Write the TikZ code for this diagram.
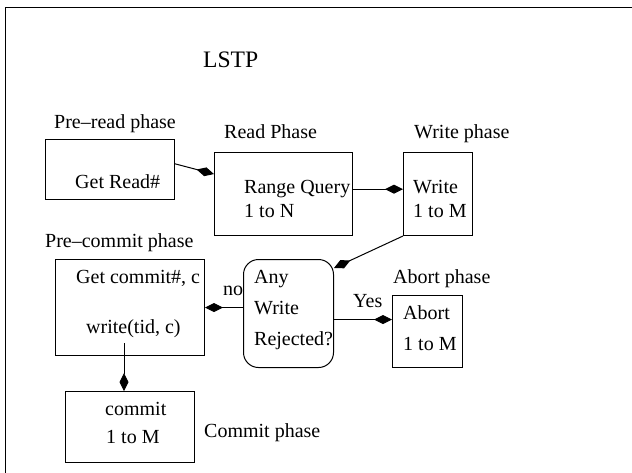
\documentclass[tikz,border=0pt]{standalone}
\usepackage{fontspec}
\setmainfont{Liberation Serif}
\usetikzlibrary{arrows.meta, calc}

\begin{document}
\begin{tikzpicture}[
    x=1pt, y=-1pt,
    box/.style={draw, line width=1pt, inner sep=0pt, anchor=north west},
    lbl/.style={anchor=base west, inner sep=0pt, font=\fontsize{20}{24}\selectfont},
    arr/.style={-{Kite[length=18pt, width=9pt, inset=9pt]}, line width=1pt}
]
\clip (0,0) rectangle (632,472);
\useasboundingbox (0,0) rectangle (632,472);
\draw[line width=1pt] (5,7) rectangle (660,500);

% title
\node[lbl, font=\fontsize{23.6}{28}\selectfont] (title) at (203,67) {LSTP};

% phase boxes
\node[box, minimum width=129pt, minimum height=60pt] (preread) at (45,139) {};
\node[box, minimum width=138pt, minimum height=83pt] (read) at (214,152) {};
\node[box, minimum width=69pt, minimum height=83pt] (write) at (403,152) {};
\node[box, minimum width=149pt, minimum height=96pt] (precommit) at (55,259) {};
\node[box, rounded corners=15pt, minimum width=90pt, minimum height=108pt] (dec) at (243,259) {};
\node[box, minimum width=70pt, minimum height=72pt] (abort) at (392,295) {};
\node[box, minimum width=129pt, minimum height=71pt] (commit) at (65,391) {};

% phase names
\node[lbl] (prereadname) at (54,128) {Pre--read phase};
\node[lbl] (readname) at (224,138) {Read Phase};
\node[lbl] (writename) at (414,138) {Write phase};
\node[lbl] (precommitname) at (45,247) {Pre--commit phase};
\node[lbl] (abortname) at (393,283) {Abort phase};
\node[lbl] (commitname) at (204,437) {Commit phase};

% box texts
\node[lbl] (getread) at (75,188) {Get Read\#};
\node[lbl] (rq) at (244,193) {Range Query};
\node[lbl] (rqn) at (244,217) {1 to N};
\node[lbl] (wr) at (413,193) {Write};
\node[lbl] (wrm) at (413,217) {1 to M};
\node[lbl] (getcommit) at (76,283) {Get commit\#, c};
\node[lbl] (wtid) at (86,333) {write(tid, c)};
\node[lbl] (any) at (254,283) {Any};
\node[lbl] (anyw) at (254,314) {Write};
\node[lbl] (anyr) at (254,345) {Rejected?};
\node[lbl] (ab) at (403,319) {Abort};
\node[lbl] (abm) at (403,350) {1 to M};
\node[lbl] (cm) at (105,415) {commit};
\node[lbl] (cmm) at (106,443) {1 to M};

% branch labels
\node[lbl] (no) at (223,295) {no};
\node[lbl] (yes) at (353,307) {Yes};

% connectors
\coordinate (yesout) at ($(dec.east)+(0,6)$);
\coordinate (cdown) at (124,343);
\draw[arr] (preread.5) -- (read.164);
\draw[arr] (read.4.6) -- (read.4.6 -| write.west);
\draw[arr] (write.south west) -- (dec.45);
\draw[arr] (precommit.east -| dec.west) -- (precommit.east);
\draw[arr] (yesout) -- (yesout -| abort.west);
\draw[arr] (cdown) -- (cdown |- commit.north);
\end{tikzpicture}
\end{document}
